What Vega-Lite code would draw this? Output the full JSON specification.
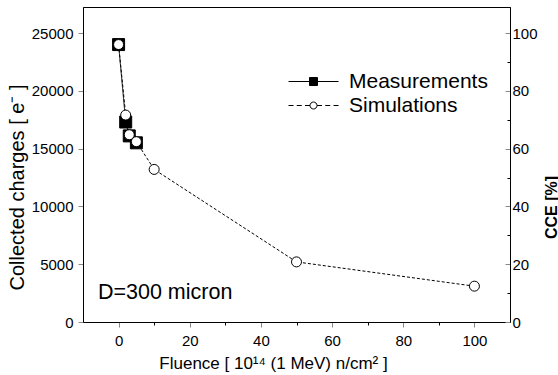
{
  "$schema": "https://vega.github.io/schema/vega-lite/v6.json",
  "width": 427,
  "height": 315,
  "autosize": "none",
  "padding": {"left": 83, "top": 7, "right": 48, "bottom": 53},
  "background": "white",
  "config": {
    "view": {"stroke": "black", "strokeWidth": 1},
    "axis": {"grid": false, "domainColor": "black", "labelFont": "Liberation Sans", "labelFontSize": 15, "labelColor": "black", "titleColor": "black", "titleFont": "Liberation Sans", "titleFontWeight": "normal"},
    "text": {"font": "Liberation Sans"}
  },
  "datasets": {
    "points": [
      {"series": "Measurements", "fluence": 0, "charge": 24000},
      {"series": "Measurements", "fluence": 2, "charge": 17300},
      {"series": "Measurements", "fluence": 3, "charge": 16100},
      {"series": "Measurements", "fluence": 5, "charge": 15500},
      {"series": "Simulations", "fluence": 0, "charge": 24000},
      {"series": "Simulations", "fluence": 2, "charge": 17900},
      {"series": "Simulations", "fluence": 3, "charge": 16200},
      {"series": "Simulations", "fluence": 5, "charge": 15600},
      {"series": "Simulations", "fluence": 10, "charge": 13200},
      {"series": "Simulations", "fluence": 50, "charge": 5200},
      {"series": "Simulations", "fluence": 100, "charge": 3100}
    ]
  },
  "layer": [
    {
      "layer": [
        {
          "data": {"name": "points"},
          "mark": {"type": "line", "stroke": "black", "strokeWidth": 1},
          "encoding": {
            "x": {"field": "fluence", "type": "quantitative", "scale": {"domain": [-10, 110], "nice": false, "zero": false},
              "axis": {"title": "Fluence [ 10¹⁴ (1 MeV) n/cm² ]", "titleFontSize": 17, "titlePadding": 7, "titleX": 190,
                "values": [0, 10, 20, 30, 40, 50, 60, 70, 80, 90, 100],
                "labelExpr": "datum.value % 20 === 0 ? datum.label : ''",
                "tickSize": {"condition": {"test": "datum.value % 20 === 0", "value": 5}, "value": 3},
                "tickColor": {"condition": {"test": "datum.value % 20 === 0", "value": "#888"}, "value": "black"},
                "labelPadding": 6, "labelFlush": false, "labelOverlap": false}},
            "y": {"field": "charge", "type": "quantitative", "scale": {"domain": [0, 27250], "nice": false},
              "axis": {"title": "Collected charges [ e⁻ ]", "titleFontSize": 20, "titleX": -66, "titleY": 180, "titleBaseline": "middle", "titleAngle": -90,
                "values": [0, 2500, 5000, 7500, 10000, 12500, 15000, 17500, 20000, 22500, 25000],
                "labelExpr": "datum.value % 5000 === 0 ? datum.label : ''",
                "format": "d",
                "tickSize": {"condition": {"test": "datum.value % 5000 === 0", "value": 5}, "value": 3},
                "tickColor": {"condition": {"test": "datum.value % 5000 === 0", "value": "#888"}, "value": "black"},
                "labelPadding": 5, "labelOverlap": false}},
            "detail": {"field": "series", "type": "nominal"},
            "strokeDash": {"condition": {"test": "datum.series === 'Simulations'", "value": [3, 2]}, "value": [1, 0]}
          }
        },
        {
          "data": {"name": "points"},
          "mark": {"type": "point", "filled": true, "stroke": "black", "strokeWidth": 1, "opacity": 1},
          "encoding": {
            "x": {"field": "fluence", "type": "quantitative"},
            "y": {"field": "charge", "type": "quantitative"},
            "shape": {"condition": {"test": "datum.series === 'Measurements'", "value": "square"}, "value": "circle"},
            "fill": {"condition": {"test": "datum.series === 'Measurements'", "value": "black"}, "value": "white"},
            "size": {"condition": {"test": "datum.series === 'Measurements'", "value": 144}, "value": 100}
          }
        },
        {
          "data": {"name": "points"},
          "transform": [{"filter": "datum.fluence < -1000"}],
          "mark": {"type": "point", "filled": true, "strokeWidth": 1, "opacity": 1},
          "encoding": {
            "x": {"field": "fluence", "type": "quantitative"},
            "y": {"field": "charge", "type": "quantitative"},
            "shape": {"field": "series", "type": "nominal",
              "scale": {"domain": ["Measurements", "Simulations"], "range": ["M-5,0H-0.8M0.8,0H5M-0.8,-0.8H0.8V0.8H-0.8Z", "M-5,0H-4M-3.35,0H-2.35M-1.7,0H-0.7M0.7,0H1.7M2.35,0H3.35M4,0H5M-0.7,0A0.7,0.7 0 1,0 0.7,0A0.7,0.7 0 1,0 -0.7,0Z"]},
              "legend": {"title": null, "orient": "none", "legendX": 220, "legendY": 64, "padding": 0,
                "labelFont": "Liberation Sans", "labelFontSize": 21, "labelColor": "black", "labelOffset": 25,
                "symbolSize": 100, "rowPadding": 2, "symbolStrokeWidth": 1, "symbolOpacity": 1}},
            "fill": {"field": "series", "type": "nominal",
              "scale": {"domain": ["Measurements", "Simulations"], "range": ["black", "white"]},
              "legend": {"title": null, "orient": "none", "legendX": 220, "legendY": 64, "padding": 0,
                "labelFont": "Liberation Sans", "labelFontSize": 21, "labelColor": "black", "labelOffset": 25,
                "symbolSize": 100, "rowPadding": 2, "symbolStrokeWidth": 1, "symbolOpacity": 1}},
            "stroke": {"field": "series", "type": "nominal",
              "scale": {"domain": ["Measurements", "Simulations"], "range": ["black", "black"]},
              "legend": {"title": null, "orient": "none", "legendX": 220, "legendY": 64, "padding": 0,
                "labelFont": "Liberation Sans", "labelFontSize": 21, "labelColor": "black", "labelOffset": 25,
                "symbolSize": 100, "rowPadding": 2, "symbolStrokeWidth": 1, "symbolOpacity": 1}}
          }
        },
        {
          "data": {"values": [{"label": "D=300 micron"}]},
          "mark": {"type": "text", "align": "left", "baseline": "middle", "fontSize": 21.5, "color": "black"},
          "encoding": {
            "x": {"datum": -5.8, "type": "quantitative"},
            "y": {"datum": 2550, "type": "quantitative"},
            "text": {"field": "label"}
          }
        }
      ]
    },
    {
      "data": {"values": [{"cce": 0}, {"cce": 100}]},
      "mark": {"type": "point", "opacity": 0},
      "encoding": {
        "y": {"field": "cce", "type": "quantitative", "scale": {"domain": [0, 109], "nice": false},
          "axis": {"orient": "right", "title": "CCE [%]", "titleFontSize": 16, "titleFontWeight": "bold", "titleAngle": -90, "titleBaseline": "middle", "titleX": 41, "titleY": 200,
            "values": [0, 10, 20, 30, 40, 50, 60, 70, 80, 90, 100],
            "labelExpr": "datum.value % 20 === 0 ? datum.label : ''",
            "tickSize": {"condition": {"test": "datum.value % 20 === 0", "value": -5}, "value": -3},
            "tickColor": {"condition": {"test": "datum.value % 20 === 0", "value": "#888"}, "value": "black"},
            "labelPadding": 7, "labelOverlap": false}}
      }
    }
  ],
  "resolve": {"scale": {"y": "independent"}}
}
